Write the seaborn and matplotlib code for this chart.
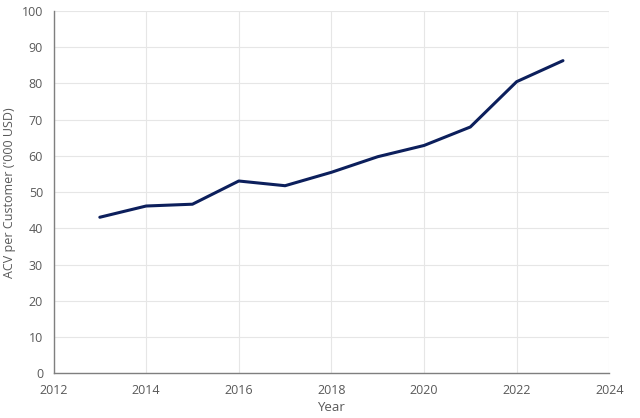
import matplotlib
matplotlib.use("Agg")
import matplotlib.pyplot as plt
import seaborn as sns
import pandas as pd

# values
years = [2013, 2014, 2015, 2016, 2017, 2018, 2019, 2020, 2021, 2022, 2023]
acv = [43.1, 46.2, 46.7, 53.1, 51.8, 55.5, 59.8, 62.9, 68.0, 80.5, 86.3]
x_ticks = [2012, 2014, 2016, 2018, 2020, 2022, 2024]
y_ticks = [0, 10, 20, 30, 40, 50, 60, 70, 80, 90, 100]

df = pd.DataFrame({"Year": years, "ACV": acv})

sns.set_style("white")
plt.rcParams['font.family'] = ['Open Sans', 'DejaVu Sans']

text_col = "#595959"
axis_col = "#7f7f7f"

fig = plt.figure(figsize=(6.4, 4.18), dpi=100)
ax = fig.add_axes([0.0836, 0.1065, 0.8684, 0.8672])

sns.lineplot(data=df, x="Year", y="ACV", ax=ax, color="#0c1f5c", linewidth=2.2)

ax.set_xlim(2012, 2024)
ax.set_ylim(0, 100)
ax.set_xticks(x_ticks)
ax.set_yticks(y_ticks)
ax.grid(True, color="#e6e6e6", linewidth=0.8)
ax.set_axisbelow(True)

for s in ["top", "right"]:
    ax.spines[s].set_visible(False)
for s in ["left", "bottom"]:
    ax.spines[s].set_color(axis_col)
    ax.spines[s].set_linewidth(1.0)

ax.tick_params(axis="both", colors=axis_col, labelcolor=text_col,
               labelsize=9, length=4, width=1, direction="out")
ax.set_xlabel("Year", color=text_col, fontsize=9.5, labelpad=3)
ax.set_ylabel("ACV per Customer ('000 USD)", color=text_col, fontsize=9)

fig.savefig("out.png", dpi=100)
